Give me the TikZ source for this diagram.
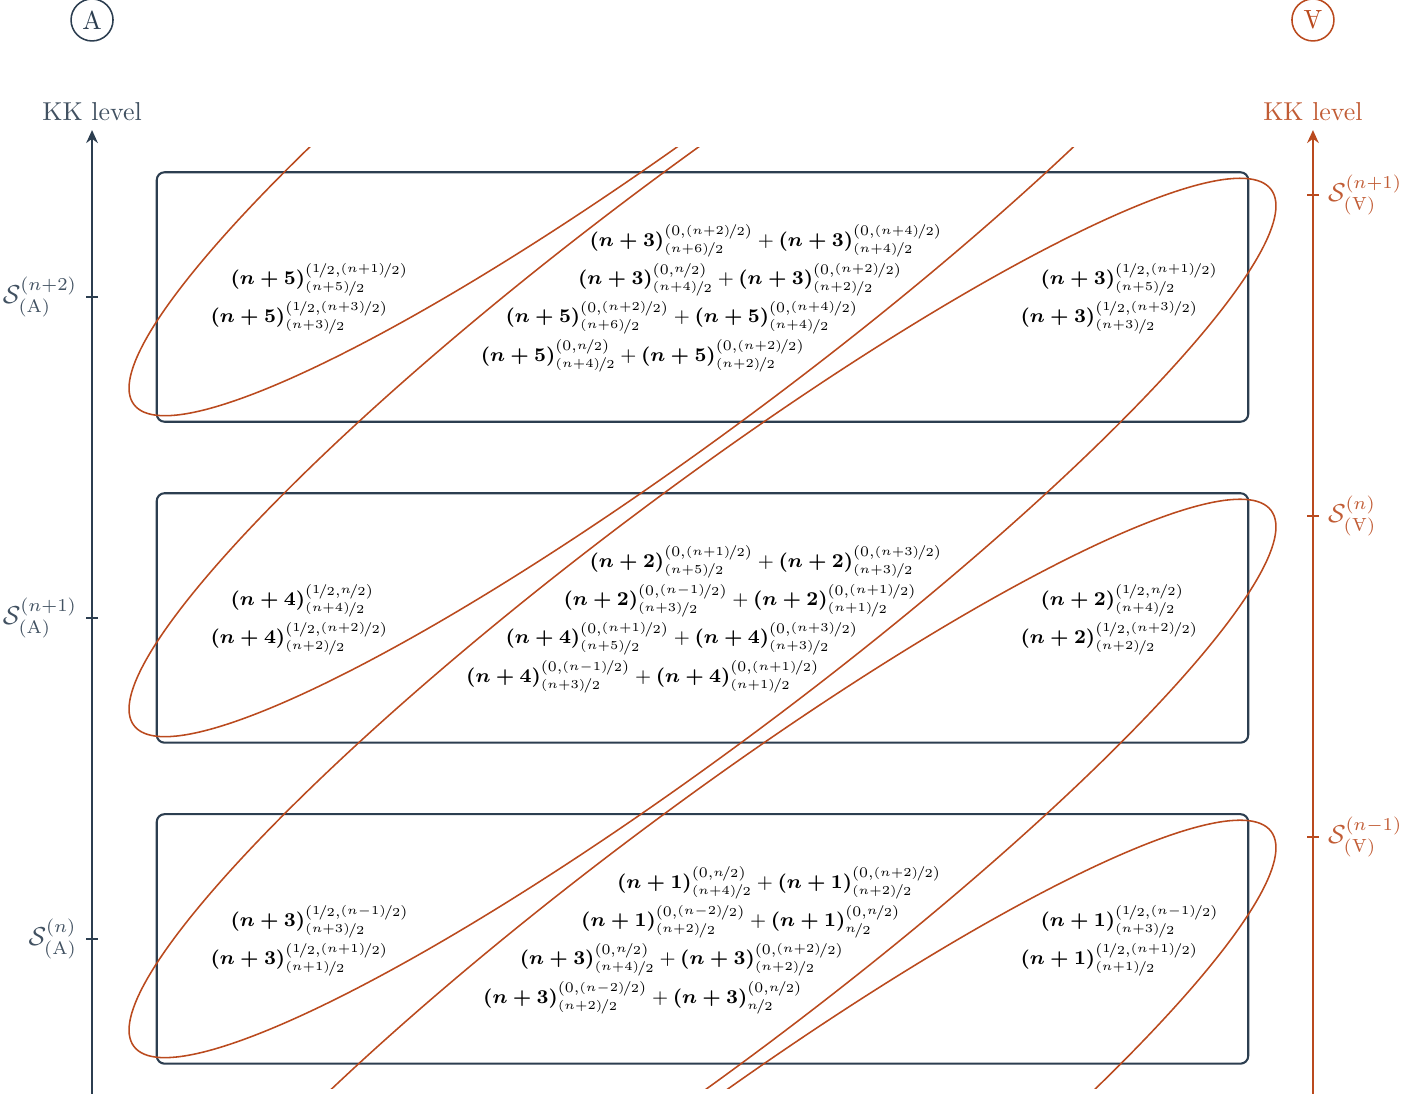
\documentclass[tikz,border=0pt]{standalone}
\usepackage{amsmath}
\usepackage{nicefrac}
\usetikzlibrary{arrows.meta,positioning,calc}
\definecolor{slate}{RGB}{44,62,80}
\definecolor{rust}{RGB}{186,74,30}
\tikzset{
    A color/.style={slate},
    V color/.style={rust},
    A label/.style={slate!90!white},
    V label/.style={rust!90!white},
    axis line/.style={->,>={Stealth[length=5pt,width=4.5pt]},thick},
    level tick/.style={semithick},
    level box/.style={draw=slate,thick,rounded corners=3pt,minimum width=14.81cm,minimum height=3.385cm,inner sep=0pt},
    frame circle/.style={circle,draw,semithick,minimum size=0.57cm,inner sep=0pt},
    multiplet/.style={rust,semithick},
    state/.style={font=\footnotesize,scale=0.94,transform shape,inner sep=0pt,anchor=base},
    state left/.style={state,anchor=base west},
}
\newcommand{\kk}[1]{\boldsymbol{(n+#1)}}
\newcommand{\hf}[1]{\nicefrac{#1}{2}}
\newcommand{\half}{\nicefrac{1}{2}}
\newcommand{\Vrot}{\text{\rotatebox[origin=c]{180}{A}}}

\begin{document}
\begin{tikzpicture}[scale=1]
    \useasboundingbox (-9.532,-6.459) rectangle (9.844,8.385);
    % axes
    \coordinate (A base) at (-8.283,-6.459);
    \coordinate (A tip) at (-8.283,6.62);
    \coordinate (V base) at (8.283,-6.459);
    \coordinate (V tip) at (8.283,6.62);
    \draw[axis line,A color] (A base) -- (A tip)
        node[above,A label] (kkA) {KK level};
    \draw[axis line,V color] (V base) -- (V tip)
        node[above,V label] (kkV) {KK level};
    \node[frame circle,A color] (cA) at (-8.283,8.114) {A};
    \node[frame circle,V color] (cV) at (8.283,8.114) {\rotatebox[origin=c]{180}{A}};

    % boxes
    \node[level box] (box1) at (0,4.355) {};
    \node[level box] (box2) at (0,0) {};
    \node[level box] (box3) at (0,-4.355) {};

    % ticks on the A axis
    \coordinate (tA1) at (box1 -| A tip);
    \coordinate (tA2) at (box2 -| A tip);
    \coordinate (tA3) at (box3 -| A tip);
    \draw[level tick,A color] ([xshift=-0.08cm]tA1) -- ([xshift=0.08cm]tA1);
    \draw[level tick,A color] ([xshift=-0.08cm]tA2) -- ([xshift=0.08cm]tA2);
    \draw[level tick,A color] ([xshift=-0.08cm]tA3) -- ([xshift=0.08cm]tA3);
    \node[A label,anchor=east] (sA1) at ([xshift=-0.08cm]tA1) {$\mathcal{S}^{(n+2)}_{(\mathrm{A})}$};
    \node[A label,anchor=east] (sA2) at ([xshift=-0.08cm]tA2) {$\mathcal{S}^{(n+1)}_{(\mathrm{A})}$};
    \node[A label,anchor=east] (sA3) at ([xshift=-0.08cm]tA3) {$\mathcal{S}^{(n)}_{(\mathrm{A})}$};

    % ticks on the V axis
    \coordinate (tV1) at ($(box1 -| V tip)+(0,1.385)$);
    \coordinate (tV2) at ($(box2 -| V tip)+(0,1.385)$);
    \coordinate (tV3) at ($(box3 -| V tip)+(0,1.385)$);
    \draw[level tick,V color] ([xshift=-0.08cm]tV1) -- ([xshift=0.08cm]tV1);
    \draw[level tick,V color] ([xshift=-0.08cm]tV2) -- ([xshift=0.08cm]tV2);
    \draw[level tick,V color] ([xshift=-0.08cm]tV3) -- ([xshift=0.08cm]tV3);
    \node[V label,anchor=west] (sV1) at ([xshift=0.08cm]tV1) {$\mathcal{S}^{(n+1)}_{(\Vrot)}$};
    \node[V label,anchor=west] (sV2) at ([xshift=0.08cm]tV2) {$\mathcal{S}^{(n)}_{(\Vrot)}$};
    \node[V label,anchor=west] (sV3) at ([xshift=0.08cm]tV3) {$\mathcal{S}^{(n-1)}_{(\Vrot)}$};

    % multiplets of the V frame
    \begin{scope}
        \clip (-9.6,-6.39) rectangle (9.9,6.38);
        \draw[multiplet,shift={(0,8.71)},rotate=37] (0,0) ellipse [x radius=9.66, y radius=1.67];
        \draw[multiplet,shift={(0,4.355)},rotate=37] (0,0) ellipse [x radius=9.66, y radius=1.67];
        \draw[multiplet,rotate=37] (0,0) ellipse [x radius=9.66, y radius=1.67];
        \draw[multiplet,shift={(0,-4.355)},rotate=37] (0,0) ellipse [x radius=9.66, y radius=1.67];
        \draw[multiplet,shift={(0,-8.71)},rotate=37] (0,0) ellipse [x radius=9.66, y radius=1.67];
    \end{scope}

    % level n+2
    \node[state left] (a1) at ($(box1)+(-6.41,0.17)$) {$\kk{5}^{(\half,\hf{(n+1)})}_{\hf{(n+5)}}$};
    \node[state left] (a2) at ($(box1)+(-6.68,-0.35)$) {$\kk{5}^{(\half,\hf{(n+3)})}_{\hf{(n+3)}}$};
    \node[state] (m11) at ($(box1)+(0.86,0.69)$) {$\kk{3}^{(0,\hf{(n+2)})}_{\hf{(n+6)}} + \kk{3}^{(0,\hf{(n+4)})}_{\hf{(n+4)}}$};
    \node[state] (m12) at ($(box1)+(0.51,0.17)$) {$\kk{3}^{(0,\hf{n})}_{\hf{(n+4)}} + \kk{3}^{(0,\hf{(n+2)})}_{\hf{(n+2)}}$};
    \node[state] (m13) at ($(box1)+(-0.28,-0.35)$) {$\kk{5}^{(0,\hf{(n+2)})}_{\hf{(n+6)}} + \kk{5}^{(0,\hf{(n+4)})}_{\hf{(n+4)}}$};
    \node[state] (m14) at ($(box1)+(-0.81,-0.87)$) {$\kk{5}^{(0,\hf{n})}_{\hf{(n+4)}} + \kk{5}^{(0,\hf{(n+2)})}_{\hf{(n+2)}}$};
    \node[state left] (b1) at ($(box1)+(4.58,0.17)$) {$\kk{3}^{(\half,\hf{(n+1)})}_{\hf{(n+5)}}$};
    \node[state left] (b2) at ($(box1)+(4.31,-0.35)$) {$\kk{3}^{(\half,\hf{(n+3)})}_{\hf{(n+3)}}$};

    % level n+1
    \node[state left] (a3) at ($(box2)+(-6.41,0.17)$) {$\kk{4}^{(\half,\hf{n})}_{\hf{(n+4)}}$};
    \node[state left] (a4) at ($(box2)+(-6.68,-0.35)$) {$\kk{4}^{(\half,\hf{(n+2)})}_{\hf{(n+2)}}$};
    \node[state] (m21) at ($(box2)+(0.86,0.69)$) {$\kk{2}^{(0,\hf{(n+1)})}_{\hf{(n+5)}} + \kk{2}^{(0,\hf{(n+3)})}_{\hf{(n+3)}}$};
    \node[state] (m22) at ($(box2)+(0.51,0.17)$) {$\kk{2}^{(0,\hf{(n-1)})}_{\hf{(n+3)}} + \kk{2}^{(0,\hf{(n+1)})}_{\hf{(n+1)}}$};
    \node[state] (m23) at ($(box2)+(-0.28,-0.35)$) {$\kk{4}^{(0,\hf{(n+1)})}_{\hf{(n+5)}} + \kk{4}^{(0,\hf{(n+3)})}_{\hf{(n+3)}}$};
    \node[state] (m24) at ($(box2)+(-0.81,-0.87)$) {$\kk{4}^{(0,\hf{(n-1)})}_{\hf{(n+3)}} + \kk{4}^{(0,\hf{(n+1)})}_{\hf{(n+1)}}$};
    \node[state left] (b3) at ($(box2)+(4.58,0.17)$) {$\kk{2}^{(\half,\hf{n})}_{\hf{(n+4)}}$};
    \node[state left] (b4) at ($(box2)+(4.31,-0.35)$) {$\kk{2}^{(\half,\hf{(n+2)})}_{\hf{(n+2)}}$};

    % level n
    \node[state left] (a5) at ($(box3)+(-6.41,0.17)$) {$\kk{3}^{(\half,\hf{(n-1)})}_{\hf{(n+3)}}$};
    \node[state left] (a6) at ($(box3)+(-6.68,-0.35)$) {$\kk{3}^{(\half,\hf{(n+1)})}_{\hf{(n+1)}}$};
    \node[state] (m31) at ($(box3)+(1.04,0.69)$) {$\kk{1}^{(0,\hf{n})}_{\hf{(n+4)}} + \kk{1}^{(0,\hf{(n+2)})}_{\hf{(n+2)}}$};
    \node[state] (m32) at ($(box3)+(0.52,0.17)$) {$\kk{1}^{(0,\hf{(n-2)})}_{\hf{(n+2)}} + \kk{1}^{(0,\hf{n})}_{\hf{n}}$};
    \node[state] (m33) at ($(box3)+(-0.28,-0.35)$) {$\kk{3}^{(0,\hf{n})}_{\hf{(n+4)}} + \kk{3}^{(0,\hf{(n+2)})}_{\hf{(n+2)}}$};
    \node[state] (m34) at ($(box3)+(-0.81,-0.87)$) {$\kk{3}^{(0,\hf{(n-2)})}_{\hf{(n+2)}} + \kk{3}^{(0,\hf{n})}_{\hf{n}}$};
    \node[state left] (b5) at ($(box3)+(4.58,0.17)$) {$\kk{1}^{(\half,\hf{(n-1)})}_{\hf{(n+3)}}$};
    \node[state left] (b6) at ($(box3)+(4.31,-0.35)$) {$\kk{1}^{(\half,\hf{(n+1)})}_{\hf{(n+1)}}$};
\end{tikzpicture}
\end{document}
